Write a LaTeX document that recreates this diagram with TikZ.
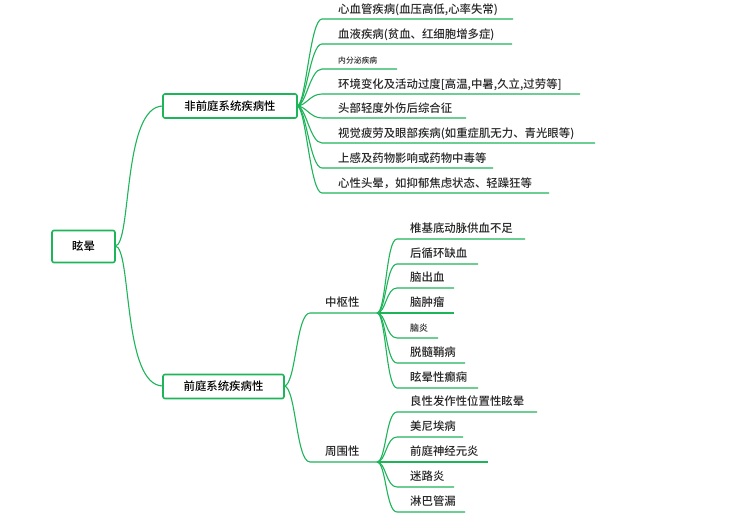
\documentclass[tikz,border=0pt]{standalone}
\usepackage{fontspec}
\setmainfont{Noto Sans CJK SC}[BoldFont={Noto Sans CJK SC Medium}]
\definecolor{gr}{RGB}{30,180,90}
\tikzset{ln/.style={gr,line width=1.1pt},
 box/.style={draw=gr,line width=1.6pt,rounded corners=2pt,fill=white,font=\bfseries\fontsize{11.4}{13}\selectfont,inner xsep=4pt,minimum height=24pt},
 lt/.style={anchor=base west,inner sep=0pt,text=black!85}}
\begin{document}
\begin{tikzpicture}[x=1pt,y=-1pt]
\useasboundingbox (0,0) rectangle (734,526);
\fill[white] (0,0) rectangle (734,526);
\coordinate (r) at (115,246);
\coordinate (o1) at (297,106);
\coordinate (o2) at (284,386);
\draw[ln] (r) .. controls (132,246) and (122,106) .. (163,106);
\draw[ln] (r) .. controls (132,246) and (122,386) .. (163,386);
\node[box,minimum width=63pt,minimum height=32pt] (root) at (83.5,246.5) {眩晕};
\node[box,minimum width=134pt,minimum height=24pt] (b1) at (230,106) {非前庭系统疾病性};
\node[box,minimum width=121pt,minimum height=24pt] (b2) at (223.5,386.5) {前庭系统疾病性};
\foreach \y/\e/\t/\s in {19/513/{心血管疾病(血压高低,心率失常)}/11.4,44/512/{血液疾病(贫血、红细胞增多症)}/11.4,69/397/{内分泌疾病}/7.8,94/580/{环境变化及活动过度[高温,中暑,久立,过劳等]}/11.4,118/466/{头部轻度外伤后综合征}/11.4,143/595/{视觉疲劳及眼部疾病(如重症肌无力、青光眼等)}/11.4,168/493/{上感及药物影响或药物中毒等}/11.4,193/549/{心性头晕，如抑郁焦虑状态、轻躁狂等}/11.4}{
 \draw[ln] (o1) .. controls (306,106) and (310,\y) .. (322,\y) -- (\e,\y);
 \node[lt,font=\bfseries\fontsize{\s}{12}\selectfont] at (338,\y-5) {\t};
}
\coordinate (c1) at (377,313);
\coordinate (c2) at (377,462);
\draw[ln] (o2) .. controls (296,386) and (296,313) .. (310,313) -- (c1);
\draw[ln] (o2) .. controls (296,386) and (296,462) .. (310,462) -- (c2);
\node[lt,font=\bfseries\fontsize{11.4}{12}\selectfont] (m1) at (325,307) {中枢性};
\node[lt,font=\bfseries\fontsize{11.4}{12}\selectfont] (m2) at (325,456) {周围性};
\foreach \y/\e/\t/\s in {239/525/{椎基底动脉供血不足}/11.4,264/478/{后循环缺血}/11.4,288/454/{脑出血}/11.4,313/454/{脑肿瘤}/11.4,338/438/{脑炎}/9,363/465/{脱髓鞘病}/11.4,388/478/{眩晕性癫痫}/11.4}{
 \draw[ln] (c1) .. controls (386,313) and (386,\y) .. (397,\y) -- (\e,\y);
 \node[lt,font=\bfseries\fontsize{\s}{12}\selectfont] at (410,\y-6) {\t};
}
\foreach \y/\e/\t in {412/537/{良性发作性位置性眩晕},437/463/{美尼埃病},462/488/{前庭神经元炎},487/454/{迷路炎},512/465/{淋巴管漏}}{
 \draw[ln] (c2) .. controls (386,462) and (386,\y) .. (397,\y) -- (\e,\y);
 \node[lt,font=\bfseries\fontsize{11.4}{12}\selectfont] at (410,\y-6) {\t};
}
\end{tikzpicture}
\end{document}
